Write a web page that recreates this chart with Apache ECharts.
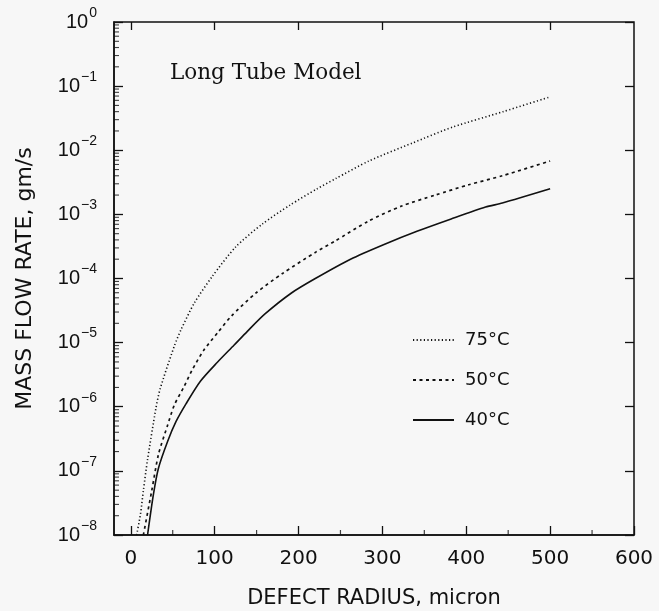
<!DOCTYPE html>
<html>
<head>
<meta charset="utf-8">
<style>
  html, body { margin: 0; padding: 0; background: #f7f7f7; }
  #chart { width: 659px; height: 611px; }
</style>
<script src="https://cdn.jsdelivr.net/npm/echarts@6/dist/echarts.min.js"></script>
</head>
<body>
<div id="chart"></div>
<script>
// ---- data ----
const radius75 = [7, 11.5, 15, 20, 30, 35, 52, 60, 76, 97, 125, 157, 190, 222, 244, 284, 336, 384, 444, 500];
const flow75   = [1.0e-8, 2.1e-8, 4.9e-8, 1.5e-7, 9.5e-7, 1.9e-6, 8.9e-6, 1.6e-5, 4.2e-5, 1.07e-4, 3.1e-4, 7.1e-4, 1.4e-3, 2.5e-3, 3.6e-3, 6.8e-3, 1.3e-2, 2.3e-2, 4.0e-2, 6.8e-2];

const radius50 = [15, 25, 33, 44, 52, 63, 73, 87, 104, 120, 149, 181, 221, 243, 283, 323, 363, 403, 443, 500];
const flow50   = [1.0e-8, 4.9e-8, 1.8e-7, 5.2e-7, 1.07e-6, 2.0e-6, 3.7e-6, 7.6e-6, 1.45e-5, 2.6e-5, 5.9e-5, 1.2e-4, 2.6e-4, 3.8e-4, 7.8e-4, 1.35e-3, 2.0e-3, 2.9e-3, 4.0e-3, 6.8e-3];

const radius40 = [20, 27, 33, 44, 54, 66, 83, 103, 123, 139, 160, 192, 220, 262, 302, 342, 382, 423, 443, 500];
const flow40   = [1.0e-8, 4.3e-8, 1.1e-7, 2.9e-7, 5.9e-7, 1.12e-6, 2.5e-6, 4.9e-6, 9.1e-6, 1.5e-5, 2.8e-5, 6.0e-5, 1.0e-4, 2.0e-4, 3.4e-4, 5.5e-4, 8.5e-4, 1.3e-3, 1.5e-3, 2.5e-3];

const seriesNames = ['75°C', '50°C', '40°C'];
const xTickValues = [0, 100, 200, 300, 400, 500, 600];
const xMinorTickValues = [50, 150, 250, 350, 450, 550];
const yDecadeExponents = [-8, -7, -6, -5, -4, -3, -2, -1, 0];
const yMinorMultipliers = [2, 3, 4, 5, 6, 7, 8, 9];

// ---- build ----
const pairs = (xs, ys) => xs.map((x, i) => [x, ys[i]]);
const xMin = -20, xMax = 600, yMin = 1e-8, yMax = 1;
const yMinorTickPoints = [];
yDecadeExponents.slice(0, -1).forEach(e => yMinorMultipliers.forEach(m => yMinorTickPoints.push([xMin, m * Math.pow(10, e)])));
const xMinorTickPoints = xMinorTickValues.map(v => [v, yMin]);

const black = '#111';
const chart = echarts.init(document.getElementById('chart'), null, { renderer: 'canvas' });

const noLine = { show: false, onZero: false };

chart.setOption({
  backgroundColor: '#f7f7f7',
  animation: false,
  grid: {
    left: 114, right: 25, top: 22, bottom: 76,
    outerBoundsMode: 'none', containLabel: false,
    show: true, borderColor: black, borderWidth: 1.5, backgroundColor: 'transparent'
  },
  title: {
    text: 'Long Tube Model',
    left: 165, top: 57,
    textStyle: { fontFamily: 'DejaVu Serif', fontSize: 21.5, fontWeight: 'normal', color: black }
  },
  legend: {
    orient: 'vertical',
    left: 407, top: 326,
    itemWidth: 41, itemHeight: 16, itemGap: 22,
    data: seriesNames,
    itemStyle: { opacity: 0 },
    textStyle: { fontFamily: 'DejaVu Sans', fontSize: 18, color: black, padding: [0, 0, 0, 6] }
  },
  xAxis: [
    {
      type: 'value', position: 'bottom', min: xMin, max: xMax,
      name: 'DEFECT RADIUS, micron', nameLocation: 'middle', nameGap: 53,
      nameTextStyle: { fontFamily: 'DejaVu Sans', fontSize: 21, color: black },
      axisLine: { show: true, onZero: false, lineStyle: { color: black, width: 1.5 } },
      axisTick: { show: true, inside: true, length: 9, customValues: xTickValues, lineStyle: { color: black, width: 1.3 } },
      axisLabel: { show: true, customValues: xTickValues, margin: 14, fontFamily: 'DejaVu Sans', fontSize: 20, color: black },
      splitLine: { show: false }
    },
    {
      type: 'value', position: 'top', min: xMin, max: xMax,
      axisLine: noLine,
      axisTick: { show: true, inside: true, length: 8, customValues: xTickValues.slice(0, -1), lineStyle: { color: black, width: 1.3 } },
      axisLabel: { show: false },
      splitLine: { show: false }
    }
  ],
  yAxis: [
    {
      type: 'log', logBase: 10, position: 'left', min: yMin, max: yMax, interval: 1,
      name: 'MASS FLOW RATE, gm/s', nameLocation: 'middle', nameGap: 78, nameRotate: 90,
      nameTextStyle: { fontFamily: 'DejaVu Sans', fontSize: 22, color: black },
      axisLine: { show: true, onZero: false, lineStyle: { color: black, width: 1.5 } },
      axisTick: { show: true, inside: true, length: 9, lineStyle: { color: black, width: 1.3 } },
      axisLabel: {
        show: true, margin: 17,
        formatter: v => {
          const e = Math.round(Math.log10(v));
          return '{b|10}{e|' + (e < 0 ? '\u2212' + (-e) : e) + '}';
        },
        rich: {
          b: { fontFamily: 'Liberation Sans', fontSize: 20, color: black },
          e: { fontFamily: 'Liberation Sans', fontSize: 14, color: black, padding: [0, 0, 18, 1] }
        }
      },
      splitLine: { show: false }
    },
    {
      type: 'log', logBase: 10, position: 'right', min: yMin, max: yMax, interval: 1,
      axisLine: noLine,
      axisTick: { show: true, inside: true, length: 9, lineStyle: { color: black, width: 1.3 } },
      axisLabel: { show: false },
      splitLine: { show: false }
    }
  ],
  series: [
    {
      name: seriesNames[0], type: 'line', xAxisIndex: 0, yAxisIndex: 0,
      data: pairs(radius75, flow75), showSymbol: false, symbol: 'none', smooth: 0.25,
      itemStyle: { color: black },
      lineStyle: { color: black, width: 1.6, type: [1.2, 2.4] }
    },
    {
      name: seriesNames[1], type: 'line', xAxisIndex: 0, yAxisIndex: 0,
      data: pairs(radius50, flow50), showSymbol: false, symbol: 'none', smooth: 0.25,
      itemStyle: { color: black },
      lineStyle: { color: black, width: 1.7, type: [3, 3.5] }
    },
    {
      name: seriesNames[2], type: 'line', xAxisIndex: 0, yAxisIndex: 0,
      data: pairs(radius40, flow40), showSymbol: false, symbol: 'none', smooth: 0.25,
      itemStyle: { color: black },
      lineStyle: { color: black, width: 1.6, type: 'solid' }
    },
    {
      name: 'yMinorTicks', type: 'scatter', xAxisIndex: 0, yAxisIndex: 0,
      data: yMinorTickPoints, symbol: 'rect', symbolSize: [5, 1.1], symbolOffset: [2.5, 0],
      itemStyle: { color: black }, silent: true, clip: false, z: 5
    },
    {
      name: 'xMinorTicks', type: 'scatter', xAxisIndex: 0, yAxisIndex: 0,
      data: xMinorTickPoints, symbol: 'rect', symbolSize: [1.2, 5], symbolOffset: [0, -2.5],
      itemStyle: { color: black }, silent: true, clip: false, z: 5
    }
  ]
});
</script>
</body>
</html>
